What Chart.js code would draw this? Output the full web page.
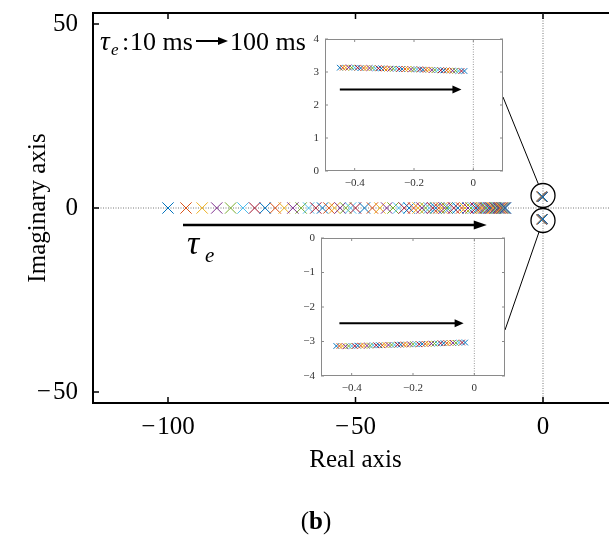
<!DOCTYPE html>
<html>
<head>
<meta charset="utf-8">
<script src="https://cdn.jsdelivr.net/npm/chart.js@4.4.1/dist/chart.umd.min.js"></script>
<style>
  html, body { margin: 0; padding: 0; background: #fff; overflow: hidden; }
  #wrap { position: relative; width: 609px; height: 538px; overflow: hidden; background: #fff; }
  canvas { position: absolute; }
</style>
</head>
<body>
<div id="wrap">
  <canvas id="main" width="620" height="538" style="left:0;top:0"></canvas>
  <canvas id="insetUp" width="225" height="170" style="left:290px;top:28px"></canvas>
  <canvas id="insetDown" width="230" height="175" style="left:286px;top:226px"></canvas>
</div>
<script>
// real poles (tau_e 10 ms -> 100 ms)
const realPoles = [
  -100, -95.2, -90.9, -87.0, -83.3, -80.0, -76.9, -74.1, -71.4, -69.0, -66.7,
  -64.5, -62.5, -60.6, -58.8, -57.1, -55.6, -54.1, -52.6, -51.3, -50.0,
  -47.6, -45.5, -43.5, -41.7, -40.0, -38.5, -37.0, -35.7, -34.5, -33.3,
  -32.3, -31.3, -30.3, -29.4, -28.6, -27.8, -27.0, -26.3, -25.6, -25.0,
  -23.8, -22.7, -21.7, -20.8, -20.0, -19.2, -18.5, -17.9, -17.2, -16.7,
  -16.1, -15.6, -15.2, -14.7, -14.3, -13.9, -13.5, -13.2, -12.8, -12.5,
  -12.2, -11.9, -11.6, -11.4, -11.1, -10.9, -10.6, -10.4, -10.2, -10.0
];
// complex pole pair near the origin
const complexRe = [
  -0.45, -0.44, -0.43, -0.42, -0.41, -0.40, -0.39, -0.38, -0.37, -0.36, -0.35,
  -0.34, -0.33, -0.32, -0.31, -0.30, -0.29, -0.28, -0.27, -0.26, -0.25, -0.24,
  -0.23, -0.22, -0.21, -0.20, -0.19, -0.18, -0.17, -0.16, -0.15, -0.14, -0.13,
  -0.12, -0.11, -0.10, -0.09, -0.08, -0.07, -0.06, -0.05, -0.04, -0.03
];
const complexImUp = [
  3.13, 3.13, 3.13, 3.14, 3.13, 3.13, 3.13, 3.12, 3.12, 3.12, 3.12,
  3.12, 3.11, 3.11, 3.11, 3.11, 3.10, 3.10, 3.10, 3.10, 3.09, 3.09,
  3.09, 3.09, 3.08, 3.08, 3.08, 3.08, 3.07, 3.07, 3.07, 3.06, 3.06,
  3.06, 3.05, 3.05, 3.05, 3.04, 3.04, 3.04, 3.03, 3.03, 3.03
];
const complexImDown = [
  -3.13, -3.13, -3.13, -3.14, -3.13, -3.13, -3.13, -3.12, -3.12, -3.12, -3.12,
  -3.12, -3.11, -3.11, -3.11, -3.11, -3.10, -3.10, -3.10, -3.10, -3.09, -3.09,
  -3.09, -3.09, -3.08, -3.08, -3.08, -3.08, -3.07, -3.07, -3.07, -3.06, -3.06,
  -3.06, -3.05, -3.05, -3.05, -3.04, -3.04, -3.04, -3.03, -3.03, -3.03
];
const mainXTicks = [-100, -50, 0];
const mainYTicks = [-50, 0, 50];
const insetXTicks = [-0.4, -0.2, 0];
const insetYTicksUp = [0, 1, 2, 3, 4];
const insetYTicksDown = [-4, -3, -2, -1, 0];

const matlab = ['#0072BD', '#D95319', '#EDB120', '#7E2F8E', '#77AC30', '#4DBEEE', '#A2142F'];
const serif = '"Liberation Serif", "Times New Roman", serif';
const fmt = v => String(v).replace('-', '\u2212\u200A');
const fmtSmall = v => String(v).replace('-', '\u2212');
const setTicks = arr => s => { s.ticks = arr.map(v => ({ value: v })); };
const fixSize = (prop, val) => s => {
  s[prop] = val;
  s.paddingTop = s.paddingBottom = s.paddingLeft = s.paddingRight = 0;
};

function arrow(ctx, x1, y, x2, lw, hl, hw) {
  ctx.save();
  ctx.strokeStyle = '#000';
  ctx.fillStyle = '#000';
  ctx.lineWidth = lw;
  ctx.beginPath();
  ctx.moveTo(x1, y);
  ctx.lineTo(x2 - hl + 1, y);
  ctx.stroke();
  ctx.beginPath();
  ctx.moveTo(x2, y);
  ctx.lineTo(x2 - hl, y - hw / 2);
  ctx.lineTo(x2 - hl, y + hw / 2);
  ctx.closePath();
  ctx.fill();
  ctx.restore();
}

function crossSet(points, r) {
  return {
    data: points,
    showLine: false,
    pointStyle: 'crossRot',
    pointRadius: r,
    pointBorderWidth: 1,
    pointBorderColor: c => matlab[c.dataIndex % matlab.length]
  };
}

// ==============================
// main root locus
// ==============================
const mainDecor = {
  id: 'mainDecor',
  beforeDatasetsDraw(chart) {
    const { ctx, chartArea: a, scales: { x, y } } = chart;
    ctx.save();
    ctx.strokeStyle = '#777';
    ctx.lineWidth = 1;
    ctx.setLineDash([1, 1.5]);
    ctx.beginPath();
    ctx.moveTo(a.left, y.getPixelForValue(0));
    ctx.lineTo(a.right, y.getPixelForValue(0));
    ctx.moveTo(x.getPixelForValue(0), a.top);
    ctx.lineTo(x.getPixelForValue(0), a.bottom);
    ctx.stroke();
    ctx.restore();
  },
  afterDraw(chart) {
    const { ctx, chartArea: a, scales: { x, y } } = chart;
    ctx.save();
    // inward ticks
    ctx.strokeStyle = '#000';
    ctx.lineWidth = 1.5;
    ctx.beginPath();
    mainXTicks.forEach(v => {
      const px = x.getPixelForValue(v);
      ctx.moveTo(px, a.bottom); ctx.lineTo(px, a.bottom - 6);
      ctx.moveTo(px, a.top); ctx.lineTo(px, a.top + 6);
    });
    mainYTicks.forEach(v => {
      const py = y.getPixelForValue(v);
      ctx.moveTo(a.left, py); ctx.lineTo(a.left + 6, py);
    });
    ctx.stroke();

    // arrow under the real poles
    const ay = y.getPixelForValue(-4.6);
    arrow(ctx, x.getPixelForValue(-96), ay, x.getPixelForValue(-15), 2.5, 13, 9);

    // circles round the complex pair and lines to the insets
    const cx = x.getPixelForValue(0);
    const cUp = y.getPixelForValue(3.4);
    const cDn = y.getPixelForValue(-3.4);
    const r = 12;
    ctx.lineWidth = 1.3;
    ctx.beginPath(); ctx.arc(cx, cUp, r, 0, Math.PI * 2); ctx.stroke();
    ctx.beginPath(); ctx.arc(cx, cDn, r, 0, Math.PI * 2); ctx.stroke();
    const link = (sx, sy, ccy) => {
      const dx = cx - sx, dy = ccy - sy, d = Math.hypot(dx, dy);
      ctx.beginPath();
      ctx.moveTo(sx, sy);
      ctx.lineTo(cx - r * dx / d, ccy - r * dy / d);
      ctx.stroke();
    };
    ctx.lineWidth = 1;
    link(503, 97, cUp);
    link(505, 330, cDn);

    // text annotations
    ctx.fillStyle = '#000';
    ctx.textAlign = 'left';
    ctx.textBaseline = 'alphabetic';
    ctx.font = 'italic 27px ' + serif;
    ctx.fillText('\u03C4', 100, 50);
    ctx.font = 'italic 17px ' + serif;
    ctx.fillText('e', 111, 55);
    ctx.font = '26px ' + serif;
    ctx.fillText(':', 122, 50);
    ctx.fillText('10 ms', 130, 50);
    arrow(ctx, 196, 41, 228, 2, 10, 8);
    ctx.fillText('100 ms', 230, 50);

    ctx.font = 'italic 34px ' + serif;
    ctx.fillText('\u03C4', 187, 254);
    ctx.font = 'italic 21px ' + serif;
    ctx.fillText('e', 205, 262);

    // panel label
    ctx.font = '25px ' + serif;
    const wp = ctx.measureText('(').width;
    ctx.font = 'bold 25px ' + serif;
    const wb = ctx.measureText('b').width;
    let tx = 316 - (wp * 2 + wb) / 2;
    ctx.font = '25px ' + serif;
    ctx.fillText('(', tx, 529);
    ctx.font = 'bold 25px ' + serif;
    ctx.fillText('b', tx + wp, 529);
    ctx.font = '25px ' + serif;
    ctx.fillText(')', tx + wp + wb, 529);
    ctx.restore();
  }
};

new Chart(document.getElementById('main').getContext('2d'), {
  type: 'scatter',
  data: {
    datasets: [
      crossSet(realPoles.map(v => ({ x: v, y: 0 })), 8),
      crossSet(complexRe.map((v, i) => ({ x: v, y: complexImUp[i] })), 6.5),
      crossSet(complexRe.map((v, i) => ({ x: v, y: complexImDown[i] })), 6.5)
    ]
  },
  options: {
    responsive: false,
    animation: false,
    events: [],
    layout: { autoPadding: false, padding: { left: 0, right: 2, top: 0, bottom: 0 } },
    plugins: { legend: { display: false }, tooltip: { enabled: false } },
    scales: {
      x: {
        type: 'linear', position: 'bottom', min: -120, max: 20,
        afterBuildTicks: setTicks(mainXTicks),
        afterFit: fixSize('height', 135),
        grid: { display: false, drawTicks: false },
        border: { display: true, color: '#000', width: 2 },
        ticks: { color: '#000', font: { family: serif, size: 25 }, padding: 9, maxRotation: 0, autoSkip: false, callback: v => fmt(v) },
        title: { display: true, text: 'Real axis', color: '#000', font: { family: serif, size: 25 }, padding: { bottom: 63 } }
      },
      x2: {
        type: 'linear', position: 'top', min: -120, max: 20,
        afterBuildTicks: setTicks(mainXTicks),
        afterFit: fixSize('height', 13),
        grid: { display: false, drawTicks: false },
        border: { display: true, color: '#000', width: 2 },
        ticks: { display: false }
      },
      y: {
        type: 'linear', position: 'left', min: -53, max: 53,
        afterBuildTicks: setTicks(mainYTicks),
        afterFit: fixSize('width', 93),
        grid: { display: false, drawTicks: false },
        border: { display: true, color: '#000', width: 2 },
        ticks: { color: '#000', font: { family: serif, size: 25 }, padding: 15, autoSkip: false, callback: v => fmt(v) },
        title: { display: true, text: 'Imaginary axis', color: '#000', font: { family: serif, size: 25 }, padding: { top: 23 } }
      }
    }
  },
  plugins: [mainDecor]
});

// ==============================
// insets: zoom on the complex pair
// ==============================
function inset(id, imag, yMin, yMax, yTicks, arrowY, arrowX1, arrowX2, yW, xH, padTop, padRight) {
  const decor = {
    id: 'insetDecor',
    beforeDatasetsDraw(chart) {
      const { ctx, chartArea: a, scales: { x } } = chart;
      ctx.save();
      ctx.strokeStyle = '#999';
      ctx.lineWidth = 1;
      ctx.setLineDash([1, 1.5]);
      ctx.beginPath();
      ctx.moveTo(x.getPixelForValue(0), a.top);
      ctx.lineTo(x.getPixelForValue(0), a.bottom);
      ctx.stroke();
      ctx.restore();
    },
    afterDraw(chart) {
      const { ctx, chartArea: a, scales: { x, y } } = chart;
      ctx.save();
      ctx.strokeStyle = '#8a8a8a';
      ctx.lineWidth = 1;
      ctx.strokeRect(a.left + 0.5, a.top + 0.5, a.right - a.left - 1, a.bottom - a.top - 1);
      ctx.beginPath();
      insetXTicks.forEach(v => {
        const px = x.getPixelForValue(v);
        ctx.moveTo(px, a.bottom); ctx.lineTo(px, a.bottom - 3);
        ctx.moveTo(px, a.top); ctx.lineTo(px, a.top + 3);
      });
      yTicks.forEach(v => {
        const py = y.getPixelForValue(v);
        ctx.moveTo(a.left, py); ctx.lineTo(a.left + 3, py);
        ctx.moveTo(a.right, py); ctx.lineTo(a.right - 3, py);
      });
      ctx.stroke();
      arrow(ctx, x.getPixelForValue(arrowX1), y.getPixelForValue(arrowY), x.getPixelForValue(arrowX2), 2, 9, 8);
      ctx.restore();
    }
  };
  new Chart(document.getElementById(id).getContext('2d'), {
    type: 'scatter',
    data: { datasets: [crossSet(complexRe.map((v, i) => ({ x: v, y: imag[i] })), 4)] },
    options: {
      responsive: false,
      animation: false,
      events: [],
      layout: { autoPadding: false, padding: { left: 0, right: padRight, top: padTop, bottom: 0 } },
      plugins: { legend: { display: false }, tooltip: { enabled: false } },
      scales: {
        x: {
          type: 'linear', min: -0.5, max: 0.1,
          afterBuildTicks: setTicks(insetXTicks),
          afterFit: fixSize('height', xH),
          grid: { display: false, drawTicks: false },
          border: { display: false },
          ticks: { color: '#333', font: { family: serif, size: 11 }, padding: 6, maxRotation: 0, autoSkip: false, callback: v => fmtSmall(v) }
        },
        y: {
          type: 'linear', min: yMin, max: yMax,
          afterBuildTicks: setTicks(yTicks),
          afterFit: fixSize('width', yW),
          grid: { display: false, drawTicks: false },
          border: { display: false },
          ticks: { color: '#333', font: { family: serif, size: 11 }, padding: 6, autoSkip: false, callback: v => fmtSmall(v) }
        }
      }
    },
    plugins: [decor]
  });
}

inset('insetUp', complexImUp, 0, 4, insetYTicksUp, 2.47, -0.45, -0.04, 35, 27, 11, 12);
inset('insetDown', complexImDown, -4, 0, insetYTicksDown, -2.47, -0.44, -0.035, 35, 25, 12, 11);
</script>
</body>
</html>
